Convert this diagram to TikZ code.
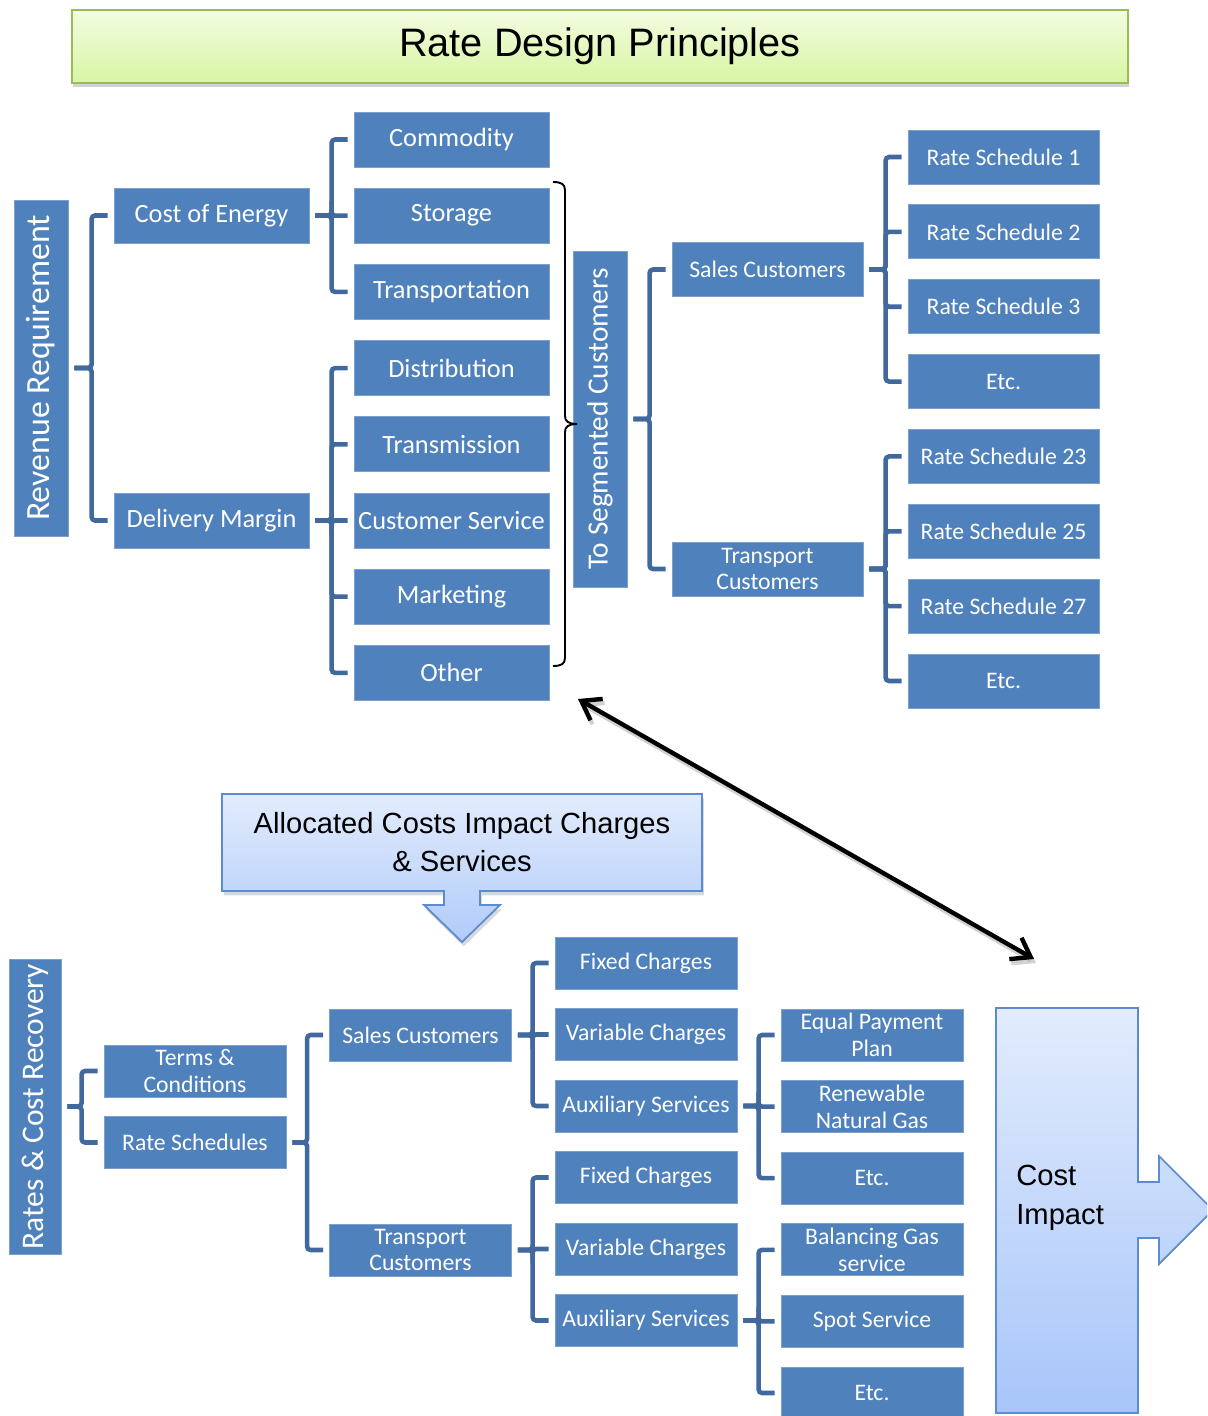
\documentclass[tikz,border=0pt]{standalone}
\usepackage{fontspec}
\setmainfont{Carlito}
\newfontfamily\arialfont{Liberation Sans}
\usetikzlibrary{calc,shadows,arrows.meta}

\definecolor{boxblue}{HTML}{4F81BD}
\definecolor{linkblue}{HTML}{41699E}
\definecolor{titlegreen}{HTML}{9BBB59}
\definecolor{titletop}{HTML}{F3FCE2}
\definecolor{titlebot}{HTML}{D8F5A2}
\definecolor{calloutblue}{HTML}{5B8BD0}
\definecolor{paletop}{HTML}{E2ECFD}
\definecolor{palebot}{HTML}{A8C5F9}

\tikzset{
  box/.style={draw=boxblue!75!white, line width=0.5pt, fill=boxblue, text=white,
    inner sep=1pt, align=center},
  bigbox/.style={box, minimum width=3.9cm, minimum height=1.1cm,
    font=\fontsize{15}{17}\selectfont},
  midbox/.style={box, minimum width=3.82cm, minimum height=1.08cm,
    font=\fontsize{13.5}{15}\selectfont},
  smallbox/.style={box, minimum width=3.64cm, minimum height=1.04cm,
    font=\fontsize{13.5}{15.3}\selectfont},
  sidebox/.style={box, rotate=90, minimum height=1.08cm},
  link/.style={draw=linkblue, line width=2.6pt, rounded corners=2pt},
  brace/.style={draw=black, line width=1.1pt},
  dbl/.style={draw=black, line width=2.5pt,
    {Straight Barb[length=10pt,width=14pt]}-{Straight Barb[length=10pt,width=14pt]}},
}

% bracket from a parent anchor to a list of children
\newcommand{\fork}[2]{%
  \foreach \kid in {#2}
    \draw[link] ($(#1)+(6,0)$) -| ($(\kid.west)+(-22,0)$) -- ($(\kid.west)+(-6,0)$);
}

\begin{document}
\begin{tikzpicture}[x=0.02cm, y=-0.02cm]
  \clip (0,0) rectangle (1207,1416);

  % title bar
  \node[draw=titlegreen, line width=1pt, top color=titletop, bottom color=titlebot,
    minimum width=21.12cm, minimum height=1.46cm,
    drop shadow={opacity=0.35, shadow xshift=0.5pt, shadow yshift=-2.5pt},
    font=\arialfont\fontsize{22.6}{26}\selectfont] (ttl) at (600,46.5) {Rate Design Principles};

  % ---- upper tree ----
  \node[sidebox, minimum width=6.72cm, font=\fontsize{19.3}{22}\selectfont] (rev) at (41,368) {Revenue Requirement};
  \node[bigbox] (coe) at (211.5,215.5) {Cost of Energy};
  \node[bigbox] (dm) at (211.5,520.5) {Delivery Margin};

  \foreach \name/\txt [count=\i from 0] in {com/Commodity, sto/Storage, tra/Transportation,
      dis/Distribution, tms/Transmission, cus/Customer Service, mkt/Marketing, oth/Other}
    \node[bigbox] (\name) at (451.5, 139.5+76.2*\i) {\txt};

  \node[sidebox, minimum width=6.72cm, font=\fontsize{16.7}{19}\selectfont] (seg) at (600,419) {To Segmented Customers};
  \node[midbox] (sc) at (767.5,269.5) {Sales Customers};
  \node[midbox] (tc) at (767.5,569) {Transport\\Customers};

  \foreach \name/\txt [count=\i from 0] in {rsa/Rate Schedule 1, rsb/Rate Schedule 2,
      rsd/Rate Schedule 3, rse/Etc., rsf/Rate Schedule 23, rsg/Rate Schedule 25,
      rsh/Rate Schedule 27, rsi/Etc.}
    \node[midbox] (\name) at (1003.5, 157+74.86*\i) {\txt};

  \fork{rev.south}{coe,dm}
  \fork{coe.east}{com,sto,tra}
  \fork{dm.east}{dis,tms,cus,mkt,oth}
  \fork{seg.south}{sc,tc}
  \fork{sc.east}{rsa,rsb,rsd,rse}
  \fork{tc.east}{rsf,rsg,rsh,rsi}

  % brace round the cost items
  \draw[brace] (553,182) .. controls (561,182) and (565,184) .. (565,190) -- (565,416)
    .. controls (565,421) and (568,424) .. (577,424);
  \draw[brace] (553,666) .. controls (561,666) and (565,664) .. (565,658) -- (565,432)
    .. controls (565,427) and (568,424) .. (577,424);

  % double arrow
  \coordinate (near) at (578,699);
  \coordinate (far) at (1034,959);
  \draw[dbl, draw=black!35, opacity=0.5] ($(near)+(2,4)$) -- ($(far)+(2,4)$);
  \draw[dbl] (near) -- (far);

  % callout
  \path[draw=calloutblue, line width=1pt, top color=paletop, bottom color=palebot!85!paletop,
    drop shadow={opacity=0.3, shadow xshift=1pt, shadow yshift=-2.5pt}]
    (222,794) -- (702,794) -- (702,891) -- (480,891) -- (480,905) -- (500,905) -- (462,942)
    -- (424,905) -- (444,905) -- (444,891) -- (222,891) -- cycle;
  \node[align=center, font=\arialfont\fontsize{16.6}{22}\selectfont] (alloc) at (462,842)
    {Allocated Costs Impact Charges\\\& Services};

  % ---- lower tree ----
  \node[sidebox, minimum width=5.9cm, minimum height=1.04cm, font=\fontsize{17.9}{20}\selectfont] (rcr) at (35,1106.5) {Rates \& Cost Recovery};
  \node[smallbox] (tcd) at (195,1071) {Terms \&\\Conditions};
  \node[smallbox] (rsl) at (195,1142.5) {Rate Schedules};
  \node[smallbox] (scb) at (420.5,1035) {Sales Customers};
  \node[smallbox] (tcb) at (420.5,1250) {Transport\\Customers};

  \foreach \name/\txt [count=\i from 0] in {fca/Fixed Charges, vca/Variable Charges,
      asa/Auxiliary Services, fcb/Fixed Charges, vcb/Variable Charges, asb/Auxiliary Services}
    \node[smallbox] (\name) at (646, 963+71.5*\i) {\txt};

  \foreach \name/\txt [count=\i from 0] in {epp/{Equal Payment\\Plan}, rng/{Renewable\\Natural Gas},
      eta/Etc., bgs/{Balancing Gas\\service}, spt/Spot Service, etb/Etc.}
    \node[smallbox] (\name) at (872, 1035+71.6*\i) {\txt};

  \fork{rcr.south}{tcd,rsl}
  \fork{rsl.east}{scb,tcb}
  \fork{scb.east}{fca,vca,asa}
  \fork{tcb.east}{fcb,vcb,asb}
  \fork{asa.east}{epp,rng,eta}
  \fork{asb.east}{bgs,spt,etb}

  % cost impact block arrow
  \path[draw=calloutblue, line width=1pt, top color=paletop, bottom color=palebot]
    (996,1008) -- (1138,1008) -- (1138,1182) -- (1159,1182) -- (1159,1156) -- (1213,1210)
    -- (1159,1264) -- (1159,1238) -- (1138,1238) -- (1138,1413) -- (996,1413) -- cycle;
  \node[anchor=west, align=left, inner sep=0pt, font=\arialfont\fontsize{16.6}{22}\selectfont] (cimp) at (1016,1198)
    {Cost\\Impact};
\end{tikzpicture}
\end{document}
